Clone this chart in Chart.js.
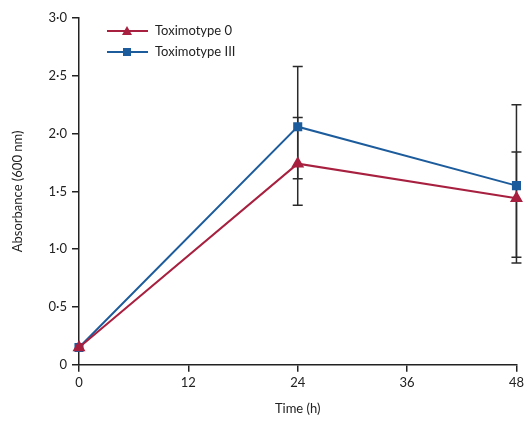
<!DOCTYPE html>
<html>
<head>
<meta charset="utf-8">
<script src="https://cdn.jsdelivr.net/npm/chart.js@4"></script>
<style>
  html, body { margin: 0; padding: 0; background: #fff; }
  #wrap { width: 527px; height: 421px; position: relative; }
</style>
</head>
<body>
<div id="wrap"><canvas id="chart"></canvas></div>
<script>
// data
var times = [0, 24, 48];
var seriesNames = ["Toximotype 0", "Toximotype III"];
var tox0 = [0.15, 1.74, 1.44];
var tox0Low = [0.15, 1.38, 0.93];
var tox0High = [0.15, 2.14, 1.84];
var tox3 = [0.15, 2.06, 1.55];
var tox3Low = [0.15, 1.61, 0.88];
var tox3High = [0.15, 2.58, 2.25];
var xTicks = [0, 12, 24, 36, 48];
var yTicks = [0, 0.5, 1, 1.5, 2, 2.5, 3];

var red = "#a8203f";
var blue = "#1d5c9c";
var font = "Lato";

function pts(vals) {
  return vals.map(function (v, i) { return { x: times[i], y: v }; });
}

var errorBars = {
  id: "errorBars",
  beforeDatasetsDraw: function (chart) {
    var ctx = chart.ctx;
    var xs = chart.scales.x, ys = chart.scales.y;
    ctx.save();
    ctx.strokeStyle = "#2a2a2a";
    ctx.lineWidth = 1.5;
    chart.data.datasets.forEach(function (ds) {
      ds.low.forEach(function (lo, i) {
        var hi = ds.high[i];
        if (hi === lo) return;
        var px = xs.getPixelForValue(times[i]);
        var p1 = ys.getPixelForValue(lo), p2 = ys.getPixelForValue(hi);
        ctx.beginPath();
        ctx.moveTo(px, p1); ctx.lineTo(px, p2);
        ctx.moveTo(px - 5, p1); ctx.lineTo(px + 5, p1);
        ctx.moveTo(px - 5, p2); ctx.lineTo(px + 5, p2);
        ctx.stroke();
      });
    });
    ctx.restore();
  }
};

var lineLegend = {
  id: "lineLegend",
  afterDraw: function (chart) {
    var ctx = chart.ctx;
    ctx.save();
    chart.data.datasets.forEach(function (ds, i) {
      var y = 31 + i * 21;
      ctx.strokeStyle = ds.borderColor;
      ctx.lineWidth = 2;
      ctx.beginPath();
      ctx.moveTo(107, y); ctx.lineTo(148, y);
      ctx.stroke();
      ctx.fillStyle = ds.borderColor;
      if (ds.pointStyle === "triangle") {
        ctx.beginPath();
        ctx.moveTo(127, y - 5); ctx.lineTo(132, y + 4); ctx.lineTo(122, y + 4);
        ctx.closePath(); ctx.fill();
      } else {
        ctx.fillRect(123, y - 4, 8, 8);
      }
      ctx.fillStyle = "#222";
      ctx.font = "13px " + font;
      ctx.textBaseline = "middle";
      ctx.fillText(ds.label, 155, y);
    });
    ctx.restore();
  }
};

new Chart(document.getElementById("chart"), {
  type: "line",
  data: {
    datasets: [
      {
        label: seriesNames[0],
        data: pts(tox0), low: tox0Low, high: tox0High,
        borderColor: red, backgroundColor: red,
        borderWidth: 2, pointStyle: "triangle", pointRadius: 5.5
      },
      {
        label: seriesNames[1],
        data: pts(tox3), low: tox3Low, high: tox3High,
        borderColor: blue, backgroundColor: blue,
        borderWidth: 2, pointStyle: "rect", pointRadius: 5
      }
    ]
  },
  options: {
    responsive: true,
    maintainAspectRatio: false,
    animation: false,
    clip: false,
    layout: { padding: { top: 18, right: 7, left: 0, bottom: 0 } },
    plugins: { legend: { display: false }, tooltip: { enabled: false } },
    scales: {
      x: {
        type: "linear", min: 0, max: 48,
        afterBuildTicks: function (s) { s.ticks = xTicks.map(function (v) { return { value: v }; }); },
        grid: { display: true, drawOnChartArea: false, tickLength: 7, color: "#222", lineWidth: 1.5 },
        border: { color: "#222", width: 1.5 },
        ticks: { color: "#222", font: { family: font, size: 13 }, padding: 3, maxRotation: 0 },
        title: { display: true, text: "Time (h)", color: "#222", font: { family: font, size: 13 }, padding: { top: 8, bottom: 4 } }
      },
      y: {
        min: 0, max: 3,
        afterBuildTicks: function (s) { s.ticks = yTicks.map(function (v) { return { value: v }; }); },
        afterFit: function (s) { s.width = 79; },
        grid: { display: true, drawOnChartArea: false, tickLength: 7, color: "#222", lineWidth: 1.5 },
        border: { color: "#222", width: 1.5 },
        ticks: {
          color: "#222", font: { family: font, size: 13 }, padding: 5,
          callback: function (v) { return v === 0 ? "0" : v.toFixed(1).replace(".", "\u00b7"); }
        },
        title: { display: true, text: "Absorbance (600 nm)", color: "#222", font: { family: font, size: 13 }, padding: { top: 10, bottom: 0 } }
      }
    }
  },
  plugins: [errorBars, lineLegend]
});
</script>
</body>
</html>
